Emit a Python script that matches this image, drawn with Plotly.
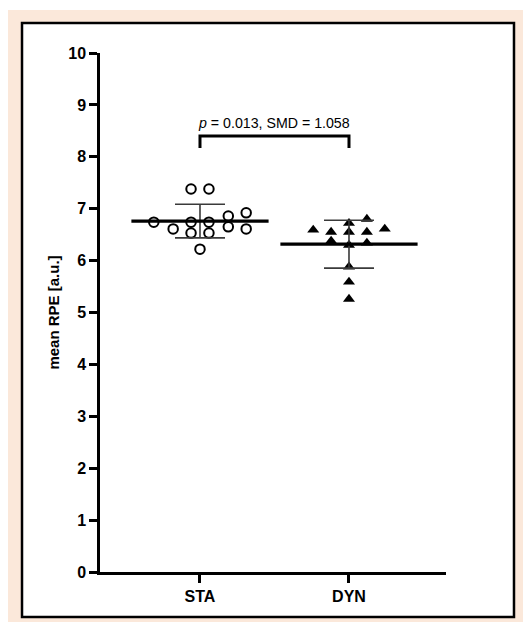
import numpy as np
import plotly.graph_objects as go

# ---- data ----
categories = ["STA", "DYN"]
sta_values = [7.38, 7.38, 6.74, 6.61, 6.74, 6.53, 6.74, 6.53, 6.86, 6.65, 6.92, 6.61, 6.22]
sta_jitter = [-0.06, 0.06, -0.31, -0.18, -0.06, -0.06, 0.06, 0.06, 0.19, 0.19, 0.31, 0.31, 0.0]
dyn_values = [6.59, 6.55, 6.38, 6.72, 6.55, 6.30, 5.88, 5.59, 5.26, 6.80, 6.55, 6.34, 6.61]
dyn_jitter = [-0.24, -0.12, -0.12, 0.0, 0.0, 0.0, 0.0, 0.0, 0.0, 0.12, 0.12, 0.12, 0.24]
y_ticks = [0, 1, 2, 3, 4, 5, 6, 7, 8, 9, 10]
stat_text = "<i>p</i> = 0.013, SMD = 1.058"
bracket_level = 8.40
bracket_drop = 0.23

FONT = "Arial, 'Liberation Sans', sans-serif"

fig = go.Figure()

groups = [
    (0, sta_values, sta_jitter, dict(symbol="circle-open", size=9.5, color="black", line=dict(width=2, color="black"))),
    (1, dyn_values, dyn_jitter, dict(symbol="triangle-up", size=10.5, color="black", line=dict(width=0))),
]

for idx, vals, jit, mk in groups:
    xs = idx + np.array(jit)
    fig.add_trace(go.Scatter(x=xs, y=vals, mode="markers", marker=mk,
                             hoverinfo="y", showlegend=False))

for idx, vals, jit, mk in groups:
    arr = np.array(vals)
    m = arr.mean()
    sd = arr.std(ddof=1)
    fig.add_trace(go.Scatter(
        x=[idx], y=[m], mode="markers",
        marker=dict(symbol="line-ew", size=98, color="black",
                    line=dict(width=3.2, color="black")),
        error_y=dict(type="data", array=[sd], visible=True, color="#3a3a3a",
                     thickness=1.6, width=25),
        showlegend=False, hoverinfo="y"))

# significance bracket
fig.add_trace(go.Scatter(
    x=[0, 0, 1, 1],
    y=[bracket_level - bracket_drop, bracket_level, bracket_level, bracket_level - bracket_drop],
    mode="lines", line=dict(color="black", width=3), showlegend=False, hoverinfo="skip"))

fig.add_annotation(x=0.5, y=8.65, xref="x", yref="y", text=stat_text, showarrow=False,
                   font=dict(family=FONT, size=14.2, color="black"))

# frame: peach band + black bordered white panel
fig.add_shape(type="rect", xref="paper", yref="paper",
              x0=-0.269, x1=1.246, y0=-0.12, y1=1.083,
              fillcolor="#FBE8DA", line=dict(width=0), layer="below")
fig.add_shape(type="rect", xref="paper", yref="paper",
              x0=-0.2254, x1=1.1965, y0=-0.0867, y1=1.0578,
              fillcolor="white", line=dict(color="black", width=2.5), layer="below")

axis_common = dict(showline=True, linewidth=2.5, linecolor="black", ticks="outside",
                   ticklen=8, tickwidth=2.5, tickcolor="black", showgrid=False,
                   zeroline=False, tickfont=dict(family=FONT, size=16, color="black", weight="bold"))

# page body has an 8px margin, so the figure is 8px smaller than the window
fig.update_layout(
    width=523, height=614,
    margin=dict(l=92, r=85, t=45, b=50),
    paper_bgcolor="white", plot_bgcolor="white",
    showlegend=False,
    font=dict(family=FONT, color="black"),
    xaxis=dict(range=[-0.671, 1.651], tickvals=[0, 1], ticktext=categories, **axis_common),
    yaxis=dict(range=[0, 10], tickvals=y_ticks, ticktext=[str(t) for t in y_ticks],
               title=dict(text="mean RPE [a.u.]", standoff=6,
                          font=dict(family=FONT, size=15, color="black", weight="bold")),
               **axis_common),
)

fig.write_html("out.html")
